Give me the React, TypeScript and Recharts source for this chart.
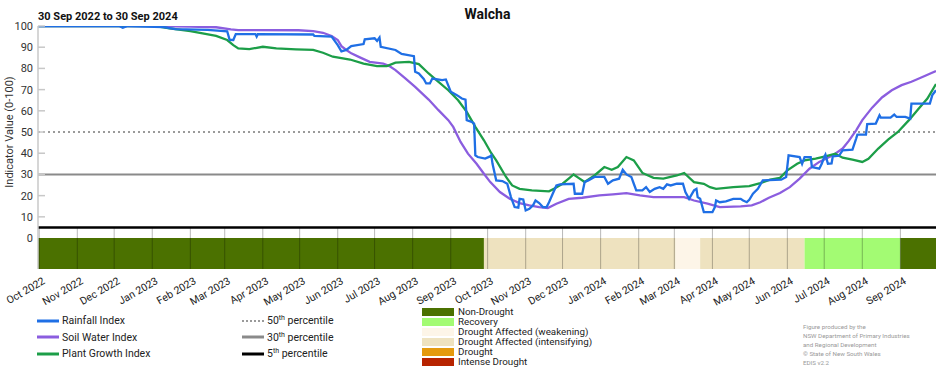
import React from 'react';
import {
  ComposedChart,
  Line,
  XAxis,
  YAxis,
  ReferenceLine,
  ReferenceArea,
} from 'recharts';

// index values: [date, value]
const rainfallIndex: [string, number][] = [
  ['2022-09-30', 100], ['2022-12-05', 100], ['2022-12-08', 99.2], ['2022-12-12', 100],
  ['2023-01-10', 99.5], ['2023-01-20', 98.5], ['2023-02-15', 98.2], ['2023-03-03', 97.5],
  ['2023-03-05', 93.5], ['2023-03-08', 93.4], ['2023-03-10', 96.2], ['2023-03-26', 96.2],
  ['2023-03-27', 95], ['2023-03-28', 96.2], ['2023-05-12', 96], ['2023-05-13', 95.3],
  ['2023-05-27', 95], ['2023-06-01', 91], ['2023-06-04', 88], ['2023-06-08', 88.7],
  ['2023-06-12', 90.5], ['2023-06-22', 91.5], ['2023-06-23', 93.7], ['2023-07-01', 94.2],
  ['2023-07-03', 93], ['2023-07-05', 94.6], ['2023-07-06', 90.2], ['2023-07-18', 88.7],
  ['2023-07-23', 86.8], ['2023-08-02', 85.8], ['2023-08-03', 78.4], ['2023-08-06', 77.6],
  ['2023-08-10', 75], ['2023-08-12', 72.9], ['2023-08-15', 72.9], ['2023-08-17', 75.2],
  ['2023-08-25', 74.5], ['2023-08-28', 74.8], ['2023-09-01', 69], ['2023-09-06', 67.4],
  ['2023-09-10', 65.8], ['2023-09-13', 65.3], ['2023-09-14', 55.6], ['2023-09-18', 54.8],
  ['2023-09-20', 54], ['2023-09-21', 39], ['2023-09-23', 38.2], ['2023-09-29', 37.5],
  ['2023-10-03', 38.5], ['2023-10-04', 39], ['2023-10-05', 35], ['2023-10-08', 27.2],
  ['2023-10-13', 26.9], ['2023-10-17', 25.6], ['2023-10-20', 19.3], ['2023-10-23', 14.6],
  ['2023-10-26', 14.3], ['2023-10-27', 18.5], ['2023-10-30', 18.2], ['2023-11-01', 13],
  ['2023-11-04', 13.8], ['2023-11-07', 15.4], ['2023-11-09', 17.7], ['2023-11-12', 16.5],
  ['2023-11-15', 14.6], ['2023-11-18', 14.6], ['2023-11-20', 16.9], ['2023-11-23', 20.9],
  ['2023-11-26', 24.8], ['2023-11-29', 25.3], ['2023-12-10', 25.6], ['2023-12-11', 20.9],
  ['2023-12-17', 20.9], ['2023-12-19', 26.4], ['2023-12-22', 27.2], ['2023-12-27', 28.8],
  ['2024-01-04', 28.8], ['2024-01-07', 25.6], ['2024-01-11', 27.2], ['2024-01-16', 28],
  ['2024-01-19', 32.2], ['2024-01-22', 30], ['2024-01-26', 28.8], ['2024-01-28', 25.6],
  ['2024-01-30', 22.5], ['2024-02-04', 22.5], ['2024-02-07', 24], ['2024-02-10', 21.7],
  ['2024-02-14', 23.2], ['2024-02-18', 24], ['2024-02-21', 23.2], ['2024-02-24', 25.3],
  ['2024-02-27', 24.8], ['2024-03-03', 25.6], ['2024-03-08', 25.6], ['2024-03-10', 21.7],
  ['2024-03-13', 18.5], ['2024-03-17', 22.5], ['2024-03-19', 23.2], ['2024-03-20', 19.3],
  ['2024-03-22', 18.5], ['2024-03-25', 12.2], ['2024-04-01', 12.2], ['2024-04-03', 14.6],
  ['2024-04-04', 17.7], ['2024-04-07', 16.9], ['2024-04-12', 17.3], ['2024-04-18', 18.5],
  ['2024-04-24', 18.5], ['2024-04-26', 17.7], ['2024-04-29', 16.9], ['2024-05-01', 18],
  ['2024-05-04', 20.9], ['2024-05-08', 23.2], ['2024-05-12', 27.2], ['2024-05-27', 27.5],
  ['2024-05-31', 28.8], ['2024-06-02', 39], ['2024-06-11', 38.2], ['2024-06-13', 35],
  ['2024-06-15', 38.2], ['2024-06-20', 38.2], ['2024-06-21', 33.5], ['2024-06-27', 32.7],
  ['2024-06-29', 35], ['2024-07-01', 38.2], ['2024-07-02', 39.3], ['2024-07-04', 35],
  ['2024-07-07', 35.2], ['2024-07-08', 38.5], ['2024-07-13', 38.8], ['2024-07-16', 41.4],
  ['2024-07-24', 41.7], ['2024-07-27', 46.9], ['2024-07-28', 48.8], ['2024-08-04', 48.8],
  ['2024-08-05', 53.7], ['2024-08-12', 54], ['2024-08-15', 57.9], ['2024-08-16', 56.8],
  ['2024-08-24', 56.8], ['2024-08-27', 58.2], ['2024-08-29', 57.1], ['2024-09-05', 57.1],
  ['2024-09-09', 56.3], ['2024-09-10', 63.4], ['2024-09-25', 63.4], ['2024-09-27', 67.4],
  ['2024-09-30', 69.7],
];

const soilWaterIndex: [string, number][] = [
  ['2022-09-30', 100], ['2023-01-05', 100], ['2023-02-01', 99.7], ['2023-02-22', 99.4],
  ['2023-03-06', 98.4], ['2023-03-12', 98.1], ['2023-04-30', 98], ['2023-05-12', 97.6],
  ['2023-05-20', 96.8], ['2023-05-27', 95.3], ['2023-06-01', 93.4], ['2023-06-04', 90.5],
  ['2023-06-08', 88.7], ['2023-06-12', 87.1], ['2023-06-19', 85.2], ['2023-06-27', 83.1],
  ['2023-07-08', 82.3], ['2023-07-13', 81.1], ['2023-07-18', 79.2], ['2023-07-26', 75.3],
  ['2023-08-03', 71.3], ['2023-08-14', 65.3], ['2023-08-22', 60.3], ['2023-08-30', 55.6],
  ['2023-09-03', 52.4], ['2023-09-09', 45.3], ['2023-09-15', 39.8], ['2023-09-22', 35],
  ['2023-09-28', 30.3], ['2023-10-03', 26.5], ['2023-10-11', 21.7], ['2023-10-19', 18.5],
  ['2023-10-27', 16.5], ['2023-11-04', 15.4], ['2023-11-12', 14.6], ['2023-11-19', 14.1],
  ['2023-11-26', 16.2], ['2023-12-06', 18.5], ['2023-12-17', 19], ['2023-12-31', 20.1],
  ['2024-01-11', 20.6], ['2024-01-22', 21.2], ['2024-02-02', 20.1], ['2024-02-13', 19.3],
  ['2024-03-09', 19.3], ['2024-03-17', 17.7], ['2024-03-28', 16.2], ['2024-04-07', 14.6],
  ['2024-04-24', 14.9], ['2024-05-03', 15.4], ['2024-05-10', 16.9], ['2024-05-17', 19],
  ['2024-05-26', 21.2], ['2024-06-03', 24], ['2024-06-11', 28], ['2024-06-19', 32.7],
  ['2024-06-27', 35.9], ['2024-07-08', 39], ['2024-07-16', 42.2], ['2024-07-21', 45.8],
  ['2024-07-27', 50.8], ['2024-08-01', 55.6], ['2024-08-09', 61.5], ['2024-08-17', 66.3],
  ['2024-08-25', 69.7], ['2024-09-02', 72.1], ['2024-09-10', 73.7], ['2024-09-18', 75.7],
  ['2024-09-30', 78.8],
];

const plantGrowthIndex: [string, number][] = [
  ['2022-09-30', 100], ['2023-01-04', 100], ['2023-01-15', 98.9], ['2023-02-01', 97.6],
  ['2023-02-11', 96.5], ['2023-02-22', 95.3], ['2023-03-03', 93.4], ['2023-03-08', 91],
  ['2023-03-12', 89.4], ['2023-03-21', 89.1], ['2023-04-01', 90.2], ['2023-04-12', 89.4],
  ['2023-04-28', 89], ['2023-05-12', 88.7], ['2023-05-20', 87.4], ['2023-05-28', 85.5],
  ['2023-06-11', 84.2], ['2023-06-22', 82.3], ['2023-07-03', 81.1], ['2023-07-11', 81.1],
  ['2023-07-18', 82.7], ['2023-07-29', 83.1], ['2023-08-06', 82], ['2023-08-14', 77.6],
  ['2023-08-22', 73.7], ['2023-08-30', 69.7], ['2023-09-07', 65], ['2023-09-14', 59.5],
  ['2023-09-21', 52.4], ['2023-09-28', 46.1], ['2023-10-04', 40], ['2023-10-08', 36.6],
  ['2023-10-16', 28.8], ['2023-10-21', 24.8], ['2023-10-27', 23.2], ['2023-11-06', 22.5],
  ['2023-11-20', 22], ['2023-11-24', 23.2], ['2023-12-01', 25.6], ['2023-12-06', 28],
  ['2023-12-10', 30], ['2023-12-14', 28.4], ['2023-12-19', 26.4], ['2023-12-27', 29.5],
  ['2024-01-04', 33.5], ['2024-01-10', 32.2], ['2024-01-15', 33.5], ['2024-01-22', 38.2],
  ['2024-01-28', 36.6], ['2024-02-04', 30.7], ['2024-02-13', 28.4], ['2024-02-21', 28],
  ['2024-03-03', 29.5], ['2024-03-09', 30.7], ['2024-03-17', 26.4], ['2024-03-25', 25.6],
  ['2024-03-30', 24], ['2024-04-04', 23.2], ['2024-04-18', 24], ['2024-05-01', 24.5],
  ['2024-05-10', 25.9], ['2024-05-18', 27.5], ['2024-05-26', 28.4], ['2024-06-01', 31.9],
  ['2024-06-09', 35], ['2024-06-15', 36.6], ['2024-06-24', 37.4], ['2024-07-02', 38.5],
  ['2024-07-10', 39.8], ['2024-07-16', 37.9], ['2024-07-24', 37], ['2024-08-01', 35.9],
  ['2024-08-06', 37.4], ['2024-08-14', 42.2], ['2024-08-22', 46.4], ['2024-08-30', 50],
  ['2024-09-08', 55.6], ['2024-09-16', 61.1], ['2024-09-23', 65.8], ['2024-09-30', 72.6],
];

// drought category band: [from, to, category]
const droughtPhases: [string, string, string][] = [
  ['2022-09-30', '2023-09-28', 'Non-Drought'],
  ['2023-09-28', '2024-03-02', 'Drought Affected (intensifying)'],
  ['2024-03-02', '2024-03-22', 'Drought Affected (weakening)'],
  ['2024-03-22', '2024-06-15', 'Drought Affected (intensifying)'],
  ['2024-06-15', '2024-09-01', 'Recovery'],
  ['2024-09-01', '2024-09-30', 'Non-Drought'],
];

const categories = [
  'Non-Drought',
  'Recovery',
  'Drought Affected (weakening)',
  'Drought Affected (intensifying)',
  'Drought',
  'Intense Drought',
];
const categoryColors = ['#4b7100', '#a3fb73', '#fdf5e8', '#eee2bf', '#e49a0e', '#b72300'];

const monthTicks = [
  '2022-10-01', '2022-11-01', '2022-12-01', '2023-01-01', '2023-02-01', '2023-03-01',
  '2023-04-01', '2023-05-01', '2023-06-01', '2023-07-01', '2023-08-01', '2023-09-01',
  '2023-10-01', '2023-11-01', '2023-12-01', '2024-01-01', '2024-02-01', '2024-03-01',
  '2024-04-01', '2024-05-01', '2024-06-01', '2024-07-01', '2024-08-01', '2024-09-01',
];
const MONTHS = ['Jan', 'Feb', 'Mar', 'Apr', 'May', 'Jun', 'Jul', 'Aug', 'Sep', 'Oct', 'Nov', 'Dec'];

const yTicks = [0, 10, 20, 30, 40, 50, 60, 70, 80, 90, 100];

const COLORS = {
  rainfall: '#1f6fe5',
  soil: '#8b5ddf',
  plant: '#1c9e48',
};

const toTime = (d: string) => Date.parse(d + 'T00:00:00Z');
const toPoints = (rows: [string, number][]) => rows.map(([d, v]) => ({ t: toTime(d), v }));

const START = toTime('2022-09-30');
const END = toTime('2024-09-30');
const BAND_BOTTOM = -14.6;

const FONT = 'Roboto, "Liberation Sans", sans-serif';

const monthLabel = (t: number) => {
  const d = new Date(t);
  return `${MONTHS[d.getUTCMonth()]} ${d.getUTCFullYear()}`;
};

const XTick = ({ x, y, payload }: any) => (
  <text
    x={x + 3}
    y={y}
    transform={`rotate(-30 ${x + 3} ${y})`}
    textAnchor="end"
    fontSize={10.5}
    fill="#222"
    fontFamily={FONT}
    dy={7}
  >
    {monthLabel(payload.value)}
  </text>
);

const YTick = ({ x, y, payload }: any) => (
  <g>
    <text x={x} y={y} dy={4} textAnchor="end" fontSize={11} fill="#333" fontFamily={FONT}>
      {payload.value}
    </text>
    {payload.value > 0 && (
      <line x1={x + 5} x2={x + 12} y1={y} y2={y} stroke="#c8c8c8" strokeWidth={1.5} />
    )}
  </g>
);

function LineKey({ color, dash, width }: { color: string; dash?: string; width?: number }) {
  return (
    <svg width={22} height={6} style={{ marginRight: 3 }}>
      <line x1={0} x2={22} y1={3} y2={3} stroke={color} strokeWidth={width ?? 3} strokeDasharray={dash} />
    </svg>
  );
}

export default function App() {
  const rain = toPoints(rainfallIndex);
  const soil = toPoints(soilWaterIndex);
  const plant = toPoints(plantGrowthIndex);
  const ticks = monthTicks.map(toTime);

  const rowStyle: React.CSSProperties = {
    position: 'absolute',
    display: 'flex',
    alignItems: 'center',
    fontSize: 10.5,
    color: '#222',
    whiteSpace: 'nowrap',
  };

  return (
    <div style={{ position: 'absolute', left: 0, top: 0, width: 952, height: 370, fontFamily: FONT, background: '#fff' }}>
      <ComposedChart width={952} height={370} margin={{ top: 26, right: 16, bottom: 71, left: 0 }}>
        <XAxis
          type="number"
          dataKey="t"
          domain={[START, END]}
          ticks={ticks}
          tick={<XTick />}
          axisLine={false}
          tickLine={false}
          height={30}
          allowDataOverflow
          interval={0}
        />
        <YAxis
          type="number"
          domain={[BAND_BOTTOM, 100]}
          ticks={yTicks}
          tick={<YTick />}
          tickLine={false}
          tickSize={0}
          tickMargin={5}
          axisLine={{ stroke: '#c8c8c8', strokeWidth: 1.5 }}
          width={38}
          allowDataOverflow
          interval={0}
        />
        {droughtPhases.map(([from, to, cat], i) => (
          <ReferenceArea
            key={`phase-${i}`}
            x1={toTime(from)}
            x2={toTime(to)}
            y1={BAND_BOTTOM}
            y2={0}
            fill={categoryColors[categories.indexOf(cat)]}
            fillOpacity={1}
            stroke="none"
            ifOverflow="hidden"
          />
        ))}
        {ticks.map((t) => (
          <ReferenceLine
            key={`m-${t}`}
            segment={[{ x: t, y: 5 }, { x: t, y: BAND_BOTTOM }]}
            stroke="rgba(0,0,0,0.28)"
            strokeWidth={1}
          />
        ))}
        <ReferenceLine y={50} stroke="#7a7a7a" strokeWidth={1.5} strokeDasharray="2 3" />
        <ReferenceLine y={30} stroke="#8a8a8a" strokeWidth={2} />
        <ReferenceLine y={5} stroke="#000" strokeWidth={2.5} />
        <Line data={soil} dataKey="v" type="linear" stroke={COLORS.soil} strokeWidth={2.3} dot={false} isAnimationActive={false} />
        <Line data={plant} dataKey="v" type="linear" stroke={COLORS.plant} strokeWidth={2.3} dot={false} isAnimationActive={false} />
        <Line data={rain} dataKey="v" type="linear" stroke={COLORS.rainfall} strokeWidth={2.3} dot={false} isAnimationActive={false} />
      </ComposedChart>

      <div style={{ position: 'absolute', left: 38, top: 10, fontSize: 11, fontWeight: 700, color: '#111' }}>
        30 Sep 2022 to 30 Sep 2024
      </div>
      <div style={{ position: 'absolute', left: 0, width: 975, top: 6, textAlign: 'center', fontSize: 14, fontWeight: 700, color: '#111' }}>
        Walcha
      </div>
      <div
        style={{
          position: 'absolute',
          left: 9,
          top: 132,
          transform: 'translate(-50%, -50%) rotate(-90deg)',
          fontSize: 11,
          color: '#333',
          whiteSpace: 'nowrap',
        }}
      >
        Indicator Value (0-100)
      </div>

      {[
        ['Rainfall Index', COLORS.rainfall],
        ['Soil Water Index', COLORS.soil],
        ['Plant Growth Index', COLORS.plant],
      ].map(([name, color], i) => (
        <div key={name} style={{ ...rowStyle, left: 37, top: 314 + i * 16.5 }}>
          <LineKey color={color} />
          {name}
        </div>
      ))}

      {[
        ['50', '#7a7a7a', '2 2', 1.5],
        ['30', '#8a8a8a', undefined, 3],
        ['5', '#000', undefined, 3],
      ].map(([p, color, dash, w], i) => (
        <div key={String(p)} style={{ ...rowStyle, left: 242, top: 314 + i * 16.5 }}>
          <LineKey color={color as string} dash={dash as string | undefined} width={w as number} />
          <span>
            {p}
            <sup style={{ fontSize: 7, verticalAlign: 'top', lineHeight: '8px' }}>th</sup> percentile
          </span>
        </div>
      ))}

      {categories.map((cat, i) => (
        <div
          key={cat}
          style={{ ...rowStyle, left: 422, top: 307 + i * 10, height: 10, fontSize: 9.8, lineHeight: '10px' }}
        >
          <div style={{ width: 32, height: 8, background: categoryColors[i], marginRight: 4, flexShrink: 0 }} />
          {cat}
        </div>
      ))}

      <div style={{ position: 'absolute', left: 803, top: 323, fontSize: 6.2, lineHeight: '9px', color: '#999' }}>
        Figure produced by the
        <br />
        NSW Department of Primary Industries
        <br />
        and Regional Development
        <br />© State of New South Wales
        <br />
        EDIS v2.2
      </div>
    </div>
  );
}
